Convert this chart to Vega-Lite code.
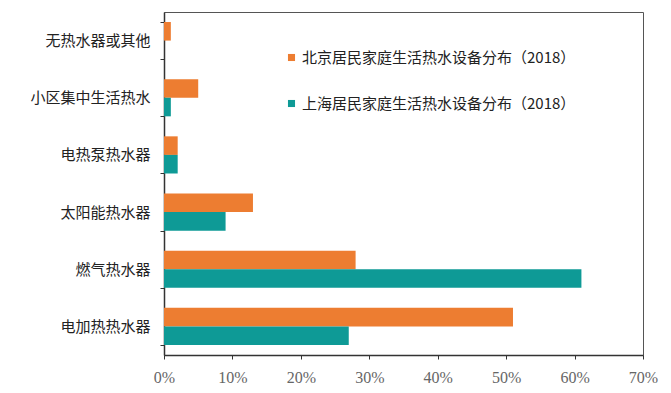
{
  "$schema": "https://vega.github.io/schema/vega-lite/v6.json",
  "width": 479,
  "height": 343,
  "autosize": {"type": "none"},
  "padding": {"left": 164, "top": 12, "right": 28, "bottom": 38},
  "background": "white",
  "config": {
    "view": {"stroke": "#555", "strokeWidth": 1},
    "font": "Noto Sans CJK SC"
  },
  "data": {
    "values": [
      {"category": "无热水器或其他", "city": "北京居民家庭生活热水设备分布（2018）", "value": 0.01},
      {"category": "无热水器或其他", "city": "上海居民家庭生活热水设备分布（2018）", "value": 0.0},
      {"category": "小区集中生活热水", "city": "北京居民家庭生活热水设备分布（2018）", "value": 0.05},
      {"category": "小区集中生活热水", "city": "上海居民家庭生活热水设备分布（2018）", "value": 0.01},
      {"category": "电热泵热水器", "city": "北京居民家庭生活热水设备分布（2018）", "value": 0.02},
      {"category": "电热泵热水器", "city": "上海居民家庭生活热水设备分布（2018）", "value": 0.02},
      {"category": "太阳能热水器", "city": "北京居民家庭生活热水设备分布（2018）", "value": 0.13},
      {"category": "太阳能热水器", "city": "上海居民家庭生活热水设备分布（2018）", "value": 0.09},
      {"category": "燃气热水器", "city": "北京居民家庭生活热水设备分布（2018）", "value": 0.28},
      {"category": "燃气热水器", "city": "上海居民家庭生活热水设备分布（2018）", "value": 0.61},
      {"category": "电加热热水器", "city": "北京居民家庭生活热水设备分布（2018）", "value": 0.51},
      {"category": "电加热热水器", "city": "上海居民家庭生活热水设备分布（2018）", "value": 0.27}
    ]
  },
  "mark": {"type": "bar"},
  "encoding": {
    "y": {
      "field": "category",
      "type": "nominal",
      "sort": ["无热水器或其他", "小区集中生活热水", "电热泵热水器", "太阳能热水器", "燃气热水器", "电加热热水器"],
      "scale": {"paddingInner": 0.35, "paddingOuter": 0.175},
      "axis": {
        "title": null,
        "labelFontSize": 15,
        "labelColor": "#222",
        "labelPadding": 10,
        "tickBand": "extent",
        "tickSize": 4,
        "tickColor": "#333",
        "domainColor": "#333",
        "domainWidth": 1.5
      }
    },
    "yOffset": {
      "field": "city",
      "type": "nominal",
      "sort": ["北京居民家庭生活热水设备分布（2018）", "上海居民家庭生活热水设备分布（2018）"]
    },
    "x": {
      "field": "value",
      "type": "quantitative",
      "scale": {"domain": [0, 0.7]},
      "axis": {
        "title": null,
        "format": ".0%",
        "values": [0, 0.1, 0.2, 0.3, 0.4, 0.5, 0.6, 0.7],
        "grid": false,
        "labelFont": "Liberation Serif",
        "labelFontSize": 16,
        "labelColor": "#666",
        "labelPadding": 10,
        "tickSize": 4,
        "tickColor": "#333",
        "domainColor": "#333",
        "domainWidth": 1.5,
        "labelFlush": false
      }
    },
    "color": {
      "field": "city",
      "type": "nominal",
      "sort": ["北京居民家庭生活热水设备分布（2018）", "上海居民家庭生活热水设备分布（2018）"],
      "scale": {
        "domain": ["北京居民家庭生活热水设备分布（2018）", "上海居民家庭生活热水设备分布（2018）"],
        "range": ["#ED7D31", "#0E9A96"]
      },
      "legend": {
        "title": null,
        "orient": "none",
        "legendX": 120,
        "legendY": 38,
        "symbolType": "square",
        "symbolSize": 50,
        "symbolStrokeWidth": 0,
        "labelFontSize": 15,
        "labelColor": "#222",
        "labelLimit": 400,
        "labelOffset": 3,
        "rowPadding": 30
      }
    }
  }
}
